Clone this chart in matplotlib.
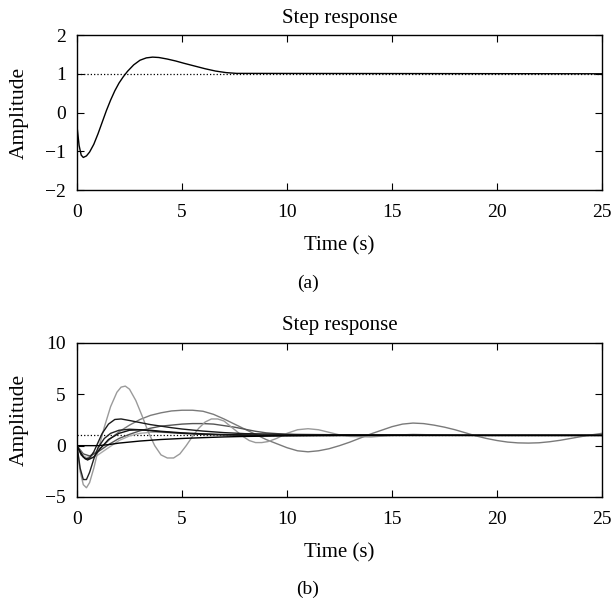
import matplotlib
matplotlib.use("Agg")
from matplotlib import pyplot as plt

# (a) single step response
t_a = [0, 0.1, 0.2, 0.3, 0.45, 0.6, 0.8, 1.0, 1.2, 1.4, 1.6, 1.8, 2.0, 2.2, 2.4,
       2.7, 3.0, 3.3, 3.6, 3.9, 4.3, 4.7, 5.1, 5.6, 6.1, 6.6, 7.1, 7.6, 25]
y_a = [-0.35, -0.85, -1.1, -1.16, -1.12, -1.02, -0.82, -0.55, -0.25, 0.05, 0.32,
       0.56, 0.76, 0.92, 1.06, 1.23, 1.35, 1.41, 1.43, 1.42, 1.38, 1.33, 1.27,
       1.2, 1.13, 1.07, 1.03, 1.01, 1.0]

# (b) family of step responses
t_b1 = [0, 0.15, 0.3, 0.45, 0.6, 0.8, 1.0, 1.3, 1.6, 1.9, 2.1, 2.3, 2.5, 2.8,
        3.1, 3.4, 3.7, 4.0, 4.3, 4.6, 4.9, 5.2, 5.5, 5.8, 6.1, 6.4, 6.7, 7.0,
        7.3, 7.6, 7.9, 8.2, 8.5, 8.8, 9.1, 9.5, 10, 10.5, 11, 11.5, 12, 12.5,
        13, 14, 15, 16, 18, 20, 25]
y_b1 = [0, -2.5, -3.8, -4.1, -3.6, -2.2, -0.5, 1.8, 3.8, 5.2, 5.7, 5.8, 5.5, 4.4,
        2.9, 1.3, 0.0, -0.9, -1.2, -1.2, -0.8, 0.0, 0.9, 1.7, 2.3, 2.6, 2.6, 2.4,
        1.9, 1.4, 0.9, 0.5, 0.3, 0.3, 0.4, 0.7, 1.2, 1.55, 1.65, 1.55, 1.3, 1.05,
        0.9, 0.85, 1.0, 1.1, 1.0, 1.0, 1.0]

t_b2 = [0, 0.2, 0.4, 0.6, 0.8, 1.0, 1.3, 1.6, 2.0, 2.5, 3.0, 3.5, 4.0, 4.5, 5.0,
        5.5, 6.0, 6.5, 7.0, 7.5, 8.0, 8.5, 9.0, 9.5, 10.0, 10.5, 11.0, 11.5,
        12.0, 12.5, 13.0, 13.5, 14, 14.5, 15, 15.5, 16, 16.5, 17, 17.5, 18,
        18.5, 19, 19.5, 20, 20.5, 21, 21.5, 22, 22.5, 23, 23.5, 24, 24.5, 25]
y_b2 = [0, -0.8, -1.2, -1.1, -0.8, -0.45, 0.1, 0.7, 1.35, 2.0, 2.55, 2.95, 3.2,
        3.38, 3.45, 3.45, 3.35, 3.05, 2.6, 2.1, 1.6, 1.1, 0.6, 0.2, -0.2, -0.5,
        -0.6, -0.5, -0.3, 0.0, 0.35, 0.75, 1.15, 1.5, 1.85, 2.1, 2.2, 2.15, 2.0,
        1.8, 1.55, 1.25, 0.95, 0.7, 0.5, 0.35, 0.27, 0.25, 0.28, 0.38, 0.52,
        0.7, 0.88, 1.05, 1.2]

t_b3 = [0, 0.3, 0.6, 1.0, 1.5, 2, 2.5, 3, 3.5, 4, 4.5, 5, 5.5, 6, 6.5, 7, 7.5,
        8, 8.5, 9, 10, 11, 12, 13, 25]
y_b3 = [0, -0.8, -1.0, -0.6, 0.1, 0.7, 1.1, 1.45, 1.7, 1.9, 2.0, 2.1, 2.15, 2.15,
        2.1, 1.95, 1.8, 1.6, 1.4, 1.25, 1.1, 1.02, 1.0, 1.0, 1.0]

t_b4 = [0, 0.2, 0.4, 0.6, 0.8, 1.0, 1.2, 1.5, 1.8, 2.1, 2.5, 3, 3.5, 4, 4.5, 5,
        6, 7, 8, 10, 12, 16, 19, 25]
y_b4 = [0, -0.9, -1.3, -1.2, -0.6, 0.3, 1.2, 2.1, 2.55, 2.6, 2.45, 2.25, 2.05,
        1.9, 1.75, 1.62, 1.42, 1.27, 1.17, 1.1, 1.07, 1.04, 1.0, 1.0]

t_b5 = [0, 0.15, 0.3, 0.45, 0.6, 0.8, 1.0, 1.3, 1.6, 2.0, 2.5, 3, 3.5, 4, 5, 6,
        8, 10, 25]
y_b5 = [0, -2.2, -3.3, -3.3, -2.6, -1.3, -0.2, 0.7, 1.2, 1.5, 1.6, 1.55, 1.45,
        1.35, 1.2, 1.1, 1.0, 1.0, 1.0]

t_b6 = [0, 1.0, 1.5, 2, 3, 4, 5, 6, 7, 8, 10, 12, 13, 15, 25]
y_b6 = [0, 0, 0.1, 0.25, 0.45, 0.6, 0.7, 0.78, 0.85, 0.9, 0.95, 0.98, 1.0, 1.0,
        1.0]

t_b7 = [0, 0.3, 0.6, 1.0, 1.5, 2, 2.5, 3, 3.5, 4, 5, 6, 8, 25]
y_b7 = [0, -1.0, -1.3, -0.9, -0.2, 0.5, 0.95, 1.2, 1.3, 1.3, 1.2, 1.1, 1.0, 1.0]

t_b8 = [0, 0.3, 0.5, 0.8, 1.1, 1.5, 2, 2.5, 3, 3.5, 4, 5, 6, 7, 9, 25]
y_b8 = [0, -1.1, -1.4, -1.1, -0.3, 0.6, 1.2, 1.5, 1.55, 1.5, 1.4, 1.25, 1.15,
        1.08, 1.02, 1.0]

curves_b = [
    (t_b2, y_b2, "#7a7a7a"),
    (t_b3, y_b3, "#555555"),
    (t_b7, y_b7, "#aaaaaa"),
    (t_b1, y_b1, "#9a9a9a"),
    (t_b4, y_b4, "#1a1a1a"),
    (t_b5, y_b5, "#222222"),
    (t_b8, y_b8, "#111111"),
    (t_b6, y_b6, "#000000"),
]

x_ticks = [0, 5, 10, 15, 20, 25]
y_ticks_a = [-2, -1, 0, 1, 2]
y_ticks_b = [-5, 0, 5, 10]

plt.rcParams["font.family"] = ["Liberation Serif", "DejaVu Serif"]
plt.rcParams["font.size"] = 14
plt.rcParams["axes.linewidth"] = 1.0


def style_axes(ax, yticks):
    ax.set_xlim(0, 25)
    ax.set_ylim(yticks[0], yticks[-1])
    ax.set_xticks(x_ticks)
    ax.set_yticks(yticks)
    ax.tick_params(direction="in", top=True, right=True, length=5, width=0.8,
                   labelsize=14)
    ax.tick_params(axis="x", pad=10)
    ax.tick_params(axis="y", pad=8)
    ax.set_title("Step response", fontsize=15, pad=9)
    ax.set_xlabel("Time (s)", fontsize=15, labelpad=11)
    ax.set_ylabel("Amplitude", fontsize=15.5, labelpad=12)


fig = plt.figure(figsize=(6.15, 6.03), dpi=100)
ax1 = fig.add_axes([0.1252, 0.6849, 0.8537, 0.257])
ax2 = fig.add_axes([0.1252, 0.1758, 0.8537, 0.2554])

ax1.plot([0, 25], [1, 1], ":", color="black", lw=0.9)
ax1.plot(t_a, y_a, color="black", lw=1.0)
style_axes(ax1, y_ticks_a)

ax2.plot([0, 25], [1, 1], ":", color="black", lw=0.9)
for t, y, c in curves_b:
    ax2.plot(t, y, color=c, lw=1.0)
style_axes(ax2, y_ticks_b)

fig.text(0.5, 1 - 283 / 603, "(a)", ha="center", va="center", fontsize=14)
fig.text(0.5, 1 - 589 / 603, "(b)", ha="center", va="center", fontsize=14)

fig.savefig("out.png", dpi=100)
